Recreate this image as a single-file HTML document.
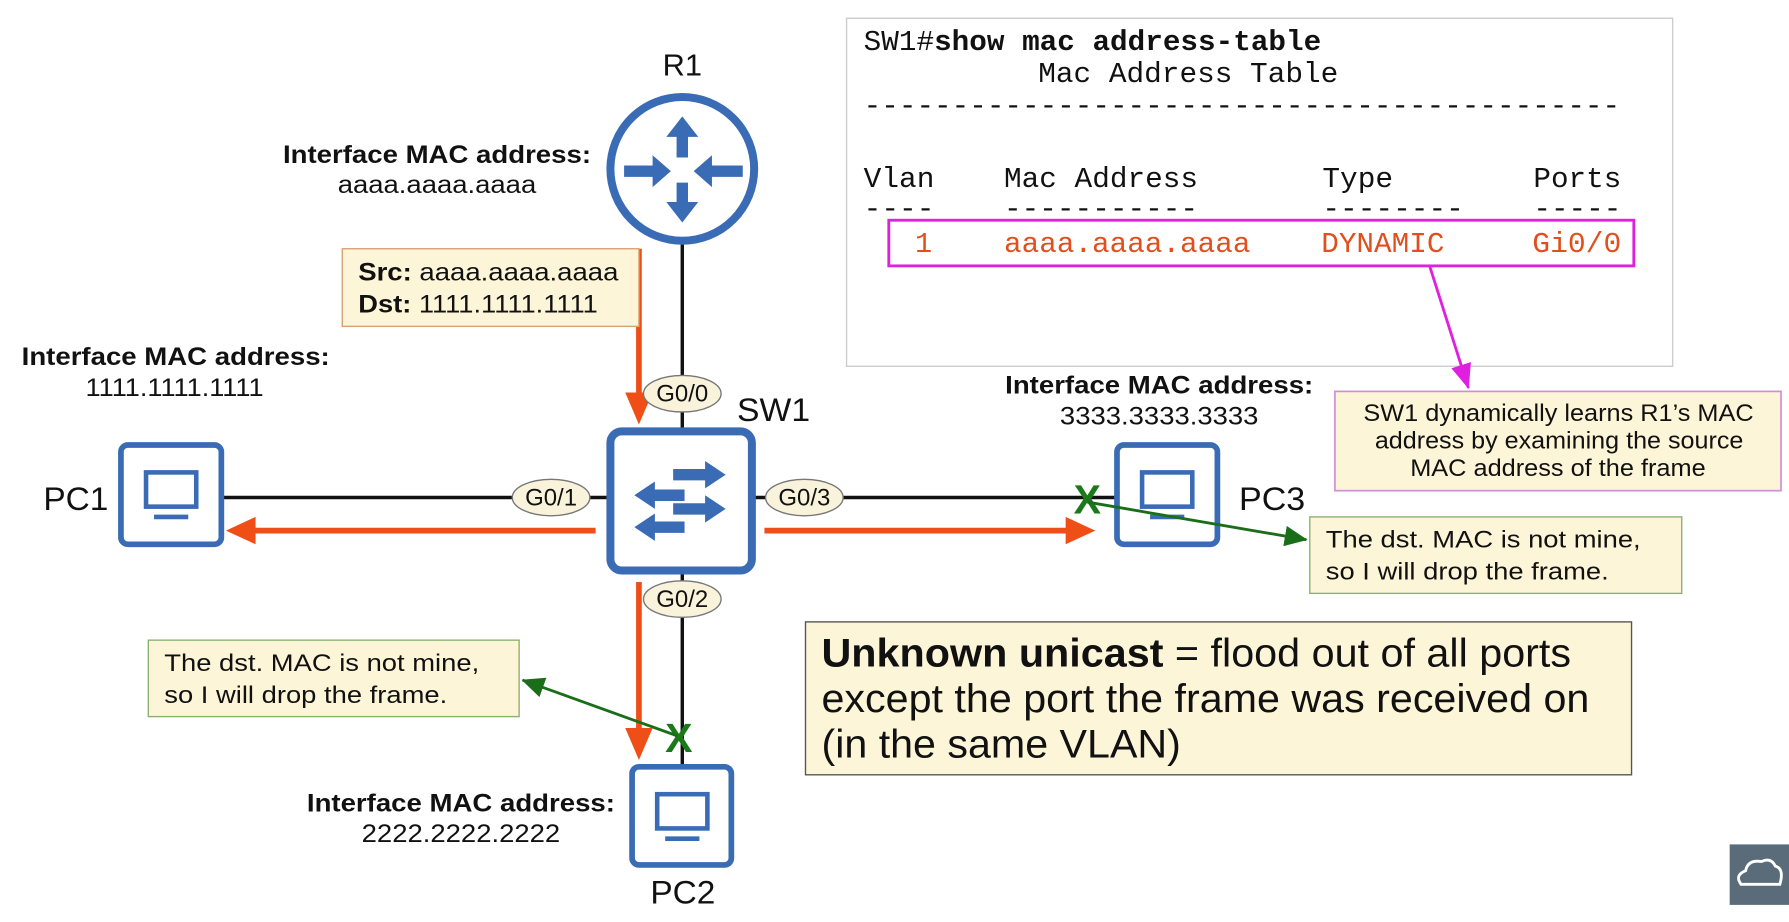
<!DOCTYPE html>
<html><head><meta charset="utf-8"><style>
html,body{margin:0;padding:0;background:#fff;}
svg{display:block;}
text{font-family:"Liberation Sans",sans-serif;}
.m{font-family:"Liberation Mono",monospace;}
</style></head><body>
<svg width="1789" height="922" viewBox="0 0 1568 808" preserveAspectRatio="none" xmlns="http://www.w3.org/2000/svg">
<defs>
<marker id="ag" markerWidth="20" markerHeight="18" refX="19" refY="9" orient="auto" markerUnits="userSpaceOnUse"><path d="M0,0 L20,9 L0,18 z" fill="#1a6e1a"/></marker>
<marker id="am" markerWidth="22" markerHeight="18" refX="21" refY="9" orient="auto" markerUnits="userSpaceOnUse"><path d="M0,0 L22,9 L0,18 z" fill="#e020e0"/></marker>
</defs>
<rect width="1568" height="808" fill="#fff"/>

<!-- CLI box -->
<rect x="742" y="16" width="724" height="305" fill="#fff" stroke="#ccc" stroke-width="1.2"/>
<text class="m" x="757" y="44" font-size="25" textLength="401" lengthAdjust="spacingAndGlyphs" fill="#111"><tspan>SW1#</tspan><tspan font-weight="bold">show mac address-table</tspan></text>
<text class="m" x="910" y="72" font-size="25" textLength="263" lengthAdjust="spacingAndGlyphs" fill="#111">Mac Address Table</text>
<text class="m" x="757" y="100" font-size="25" textLength="663" lengthAdjust="spacingAndGlyphs" fill="#111">-------------------------------------------</text>
<text class="m" x="757" y="164" font-size="25" fill="#111" textLength="62" lengthAdjust="spacingAndGlyphs">Vlan</text>
<text class="m" x="880" y="164" font-size="25" fill="#111" textLength="170" lengthAdjust="spacingAndGlyphs">Mac Address</text>
<text class="m" x="1159" y="164" font-size="25" fill="#111" textLength="62" lengthAdjust="spacingAndGlyphs">Type</text>
<text class="m" x="1344" y="164" font-size="25" fill="#111" textLength="77" lengthAdjust="spacingAndGlyphs">Ports</text>
<text class="m" x="757" y="190" font-size="25" fill="#111" textLength="62" lengthAdjust="spacingAndGlyphs">----</text>
<text class="m" x="880" y="190" font-size="25" fill="#111" textLength="170" lengthAdjust="spacingAndGlyphs">-----------</text>
<text class="m" x="1159" y="190" font-size="25" fill="#111" textLength="124" lengthAdjust="spacingAndGlyphs">--------</text>
<text class="m" x="1344" y="190" font-size="25" fill="#111" textLength="77" lengthAdjust="spacingAndGlyphs">-----</text>
<text class="m" x="802" y="221" font-size="25" fill="#e0501e">1</text>
<text class="m" x="880" y="221" font-size="25" fill="#e0501e" textLength="216" lengthAdjust="spacingAndGlyphs">aaaa.aaaa.aaaa</text>
<text class="m" x="1158" y="221" font-size="25" fill="#e0501e" textLength="108" lengthAdjust="spacingAndGlyphs">DYNAMIC</text>
<text class="m" x="1343" y="221" font-size="25" fill="#e0501e" textLength="78" lengthAdjust="spacingAndGlyphs">Gi0/0</text>
<rect x="779" y="193" width="653" height="40" fill="none" stroke="#e020e0" stroke-width="2.5"/>
<line x1="1253" y1="233" x2="1287" y2="340" stroke="#e020e0" stroke-width="2.5" marker-end="url(#am)"/>

<!-- SW1 learns box -->
<rect x="1170" y="343" width="391" height="87" fill="#fdf5d8" stroke="#d090d8" stroke-width="1.5"/>
<text x="1195" y="369" font-size="21" fill="#111" textLength="342" lengthAdjust="spacingAndGlyphs">SW1 dynamically learns R1’s MAC</text>
<text x="1205" y="393" font-size="21" fill="#111" textLength="323" lengthAdjust="spacingAndGlyphs">address by examining the source</text>
<text x="1236" y="417" font-size="21" fill="#111" textLength="259" lengthAdjust="spacingAndGlyphs">MAC address of the frame</text>

<!-- links -->
<line x1="598" y1="211" x2="598" y2="378" stroke="#111" stroke-width="3"/>
<line x1="598" y1="500" x2="598" y2="672" stroke="#111" stroke-width="3"/>
<line x1="194" y1="436" x2="535" y2="436" stroke="#111" stroke-width="3"/>
<line x1="659" y1="436" x2="978" y2="436" stroke="#111" stroke-width="3"/>

<!-- orange arrows -->
<line x1="560" y1="218" x2="560" y2="346" stroke="#f04e17" stroke-width="5"/>
<path d="M548,344 L572,344 L560,372 z" fill="#f04e17"/>
<line x1="560" y1="510" x2="560" y2="640" stroke="#f04e17" stroke-width="5"/>
<path d="M548,638 L572,638 L560,666 z" fill="#f04e17"/>
<line x1="522" y1="465" x2="222" y2="465" stroke="#f04e17" stroke-width="5"/>
<path d="M224,453 L224,477 L198,465 z" fill="#f04e17"/>
<line x1="670" y1="465" x2="936" y2="465" stroke="#f04e17" stroke-width="5"/>
<path d="M934,453 L934,477 L960,465 z" fill="#f04e17"/>

<!-- Src/Dst box -->
<rect x="300" y="218" width="260" height="68" fill="#fdf5d8" stroke="#d9a070" stroke-width="1.2"/>
<text x="314" y="246" font-size="22" fill="#111" textLength="228" lengthAdjust="spacingAndGlyphs"><tspan font-weight="bold">Src:</tspan> aaaa.aaaa.aaaa</text>
<text x="314" y="274" font-size="22" fill="#111" textLength="210" lengthAdjust="spacingAndGlyphs"><tspan font-weight="bold">Dst:</tspan> 1111.1111.1111</text>

<!-- R1 -->
<text x="598" y="66" font-size="27" text-anchor="middle" fill="#111">R1</text>
<circle cx="598" cy="148" r="63" fill="#fff" stroke="#3a6bb5" stroke-width="7"/>
<g fill="#3a6bb5">
<path d="M598,102 L612,120 L603,120 L603,138 L593,138 L593,120 L584,120 z"/>
<path d="M598,195 L612,177 L603,177 L603,160 L593,160 L593,177 L584,177 z"/>
<path d="M588,150 L572,136 L572,145 L547,145 L547,155 L572,155 L572,164 z"/>
<path d="M608,150 L624,136 L624,145 L651,145 L651,155 L624,155 L624,164 z"/>
</g>
<text x="248" y="143" font-size="22" font-weight="bold" fill="#111" textLength="270" lengthAdjust="spacingAndGlyphs">Interface MAC address:</text>
<text x="296" y="169" font-size="22" fill="#111" textLength="174" lengthAdjust="spacingAndGlyphs">aaaa.aaaa.aaaa</text>

<!-- SW1 -->
<rect x="535" y="378" width="124" height="122" rx="10" fill="#fff" stroke="#3a6bb5" stroke-width="7"/>
<g fill="#3a6bb5">
<path d="M636,416 L618,404 L618,411 L590,411 L590,421 L618,421 L618,428 z"/>
<path d="M636,446 L618,434 L618,441 L590,441 L590,451 L618,451 L618,458 z"/>
<path d="M556,434 L574,422 L574,429 L600,429 L600,439 L574,439 L574,446 z"/>
<path d="M556,462 L574,450 L574,457 L600,457 L600,467 L574,467 L574,474 z"/>
</g>
<text x="646" y="369" font-size="28" fill="#111" textLength="64" lengthAdjust="spacingAndGlyphs">SW1</text>

<!-- port ellipses -->
<g font-size="21" text-anchor="middle" fill="#111">
<ellipse cx="598" cy="345" rx="34" ry="16" fill="#faf3dc" stroke="#777" stroke-width="1.2"/><text x="598" y="352">G0/0</text>
<ellipse cx="483" cy="436" rx="34" ry="16" fill="#faf3dc" stroke="#777" stroke-width="1.2"/><text x="483" y="443">G0/1</text>
<ellipse cx="705" cy="436" rx="34" ry="16" fill="#faf3dc" stroke="#777" stroke-width="1.2"/><text x="705" y="443">G0/3</text>
<ellipse cx="598" cy="525" rx="34" ry="16" fill="#faf3dc" stroke="#777" stroke-width="1.2"/><text x="598" y="532">G0/2</text>
</g>

<!-- PCs -->
<g fill="#fff" stroke="#3a6bb5" stroke-width="5">
<rect x="106" y="390" width="88" height="87" rx="6"/>
<rect x="979" y="390" width="88" height="87" rx="6"/>
<rect x="554" y="672" width="87" height="86" rx="6"/>
</g>
<g fill="none" stroke="#3a6bb5" stroke-width="4">
<rect x="128" y="414" width="44" height="30"/><line x1="135" y1="453" x2="165" y2="453"/>
<rect x="1001" y="414" width="44" height="30"/><line x1="1008" y1="453" x2="1038" y2="453"/>
<rect x="576" y="696" width="44" height="30"/><line x1="583" y1="735" x2="613" y2="735"/>
</g>
<text x="38" y="447" font-size="28" fill="#111" textLength="57" lengthAdjust="spacingAndGlyphs">PC1</text>
<text x="1086" y="447" font-size="28" fill="#111" textLength="58" lengthAdjust="spacingAndGlyphs">PC3</text>
<text x="570" y="792" font-size="28" fill="#111" textLength="57" lengthAdjust="spacingAndGlyphs">PC2</text>
<text x="19" y="320" font-size="22" font-weight="bold" fill="#111" textLength="270" lengthAdjust="spacingAndGlyphs">Interface MAC address:</text>
<text x="75" y="347" font-size="22" fill="#111" textLength="156" lengthAdjust="spacingAndGlyphs">1111.1111.1111</text>
<text x="881" y="345" font-size="22" font-weight="bold" fill="#111" textLength="270" lengthAdjust="spacingAndGlyphs">Interface MAC address:</text>
<text x="929" y="372" font-size="22" fill="#111" textLength="174" lengthAdjust="spacingAndGlyphs">3333.3333.3333</text>
<text x="269" y="711" font-size="22" font-weight="bold" fill="#111" textLength="270" lengthAdjust="spacingAndGlyphs">Interface MAC address:</text>
<text x="317" y="738" font-size="22" fill="#111" textLength="174" lengthAdjust="spacingAndGlyphs">2222.2222.2222</text>

<!-- green X and notes -->
<text x="953" y="450" font-size="36" font-weight="bold" text-anchor="middle" fill="#1a7a1a">X</text>
<text x="595" y="659" font-size="36" font-weight="bold" text-anchor="middle" fill="#1a7a1a">X</text>
<line x1="953" y1="440" x2="1145" y2="473" stroke="#1a6e1a" stroke-width="2.5" marker-end="url(#ag)"/>
<line x1="594" y1="645" x2="458" y2="596" stroke="#1a6e1a" stroke-width="2.5" marker-end="url(#ag)"/>
<rect x="1148" y="453" width="326" height="67" fill="#fdf5d8" stroke="#8cb070" stroke-width="1.2"/>
<text x="1162" y="480" font-size="21" fill="#111" textLength="276" lengthAdjust="spacingAndGlyphs">The dst. MAC is not mine,</text>
<text x="1162" y="508" font-size="21" fill="#111" textLength="248" lengthAdjust="spacingAndGlyphs">so I will drop the frame.</text>
<rect x="130" y="561" width="325" height="67" fill="#fdf5d8" stroke="#8cb070" stroke-width="1.2"/>
<text x="144" y="588" font-size="21" fill="#111" textLength="276" lengthAdjust="spacingAndGlyphs">The dst. MAC is not mine,</text>
<text x="144" y="616" font-size="21" fill="#111" textLength="248" lengthAdjust="spacingAndGlyphs">so I will drop the frame.</text>

<!-- Unknown unicast box -->
<rect x="706" y="545" width="724" height="134" fill="#fdf5d8" stroke="#555" stroke-width="1.2"/>
<text x="720" y="584" font-size="35" fill="#111" textLength="657" lengthAdjust="spacingAndGlyphs"><tspan font-weight="bold">Unknown unicast</tspan> = flood out of all ports</text>
<text x="720" y="624" font-size="35" fill="#111" textLength="673" lengthAdjust="spacingAndGlyphs">except the port the frame was received on</text>
<text x="720" y="664" font-size="35" fill="#111" textLength="315" lengthAdjust="spacingAndGlyphs">(in the same VLAN)</text>

<!-- logo -->
<rect x="1516" y="740" width="52" height="53" fill="#5a6b7a"/>
<path d="M1526,775 q-6,-8 4,-12 q2,-10 14,-8 q8,-4 12,4 q8,2 4,16 z" fill="none" stroke="#fff" stroke-width="2.5"/>
</svg>
</body></html>
